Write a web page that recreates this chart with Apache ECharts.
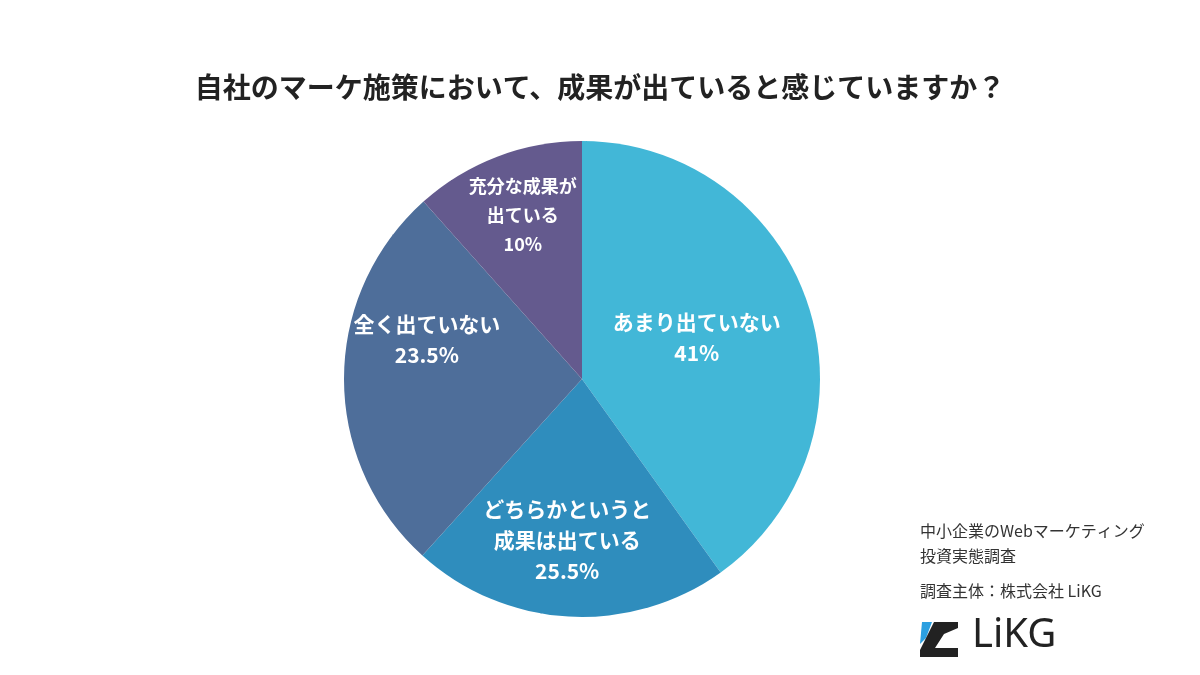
<!DOCTYPE html>
<html><head><meta charset="utf-8">
<script src="https://cdn.jsdelivr.net/npm/echarts@6/dist/echarts.min.js"></script>
<style>html,body{margin:0;background:#fff}#c{width:1200px;height:675px}</style>
</head><body><div id="c"></div>
<script>
const categories = ['あまり出ていない','どちらかというと\n成果は出ている','全く出ていない','充分な成果が\n出ている'];
const values = [40.1, 21.6, 26.7, 11.6];
const labelText = ['41%','25.5%','23.5%','10%'];
const colors = ['#42B7D7','#2F8DBD','#4E6E9A','#645A8E'];
const labelDist = [122, 162, 160, 174];
const angleAdj = [-2, 2, 14, 1];
const cx = 582, cy = 379, R = 238;
const total = values.reduce((a,b)=>a+b,0);
const mids = []; let acc = 0;
values.forEach((v,i)=>{ mids.push((acc + v/2)/total*2*Math.PI + angleAdj[i]*Math.PI/180); acc += v; });
const chart = echarts.init(document.getElementById('c'));
const font = '"Noto Sans CJK JP", sans-serif';
chart.setOption({
  animation:false,
  title:{text:'自社のマーケ施策において、成果が出ていると感じていますか？',left:'center',top:68,
    textStyle:{fontFamily:font,fontSize:28,fontWeight:'bold',color:'#222'}},
  graphic:[
    {type:'text',left:920,top:518,style:{text:'中小企業のWebマーケティング\n投資実態調査',font:'16px '+font,fill:'#333',lineHeight:25}},
    {type:'text',left:920,top:583,style:{text:'調査主体：株式会社 LiKG',font:'16px '+font,fill:'#333'}},
    {type:'polygon',shape:{points:[[922,622],[932,622],[926,638],[920,644]]},style:{fill:'#2B9FE0'}},
    {type:'polygon',shape:{points:[[934,622],[958,622],[958,628],[944,634],[935,648],[958,648],[958,657],[920,657],[920,650]]},style:{fill:'#222'}},
    {type:'text',left:972,top:616,style:{text:'LiKG',font:'40px "Noto Sans", sans-serif',fill:'#222',letterSpacing:4}}
  ],
  series:[{
    type:'pie',center:[cx,cy],radius:R,startAngle:90,clockwise:true,
    label:{show:true,position:'inside',fontFamily:font,fontSize:21,fontWeight:'bold',color:'#fff',lineHeight:31,align:'center',
      formatter:p=>categories[p.dataIndex]+'\n'+labelText[p.dataIndex]},
    labelLayout:p=>{const i=p.dataIndex,a=mids[i],d=labelDist[i];
      return {x:cx+d*Math.sin(a),y:cy-d*Math.cos(a),align:'center',verticalAlign:'middle'};},
    itemStyle:{borderWidth:0},
    data:values.map((v,i)=>({value:v,name:categories[i],itemStyle:{color:colors[i]},
      label: i===3?{fontSize:18,lineHeight:29}:undefined}))
  }]
});
</script></body></html>
